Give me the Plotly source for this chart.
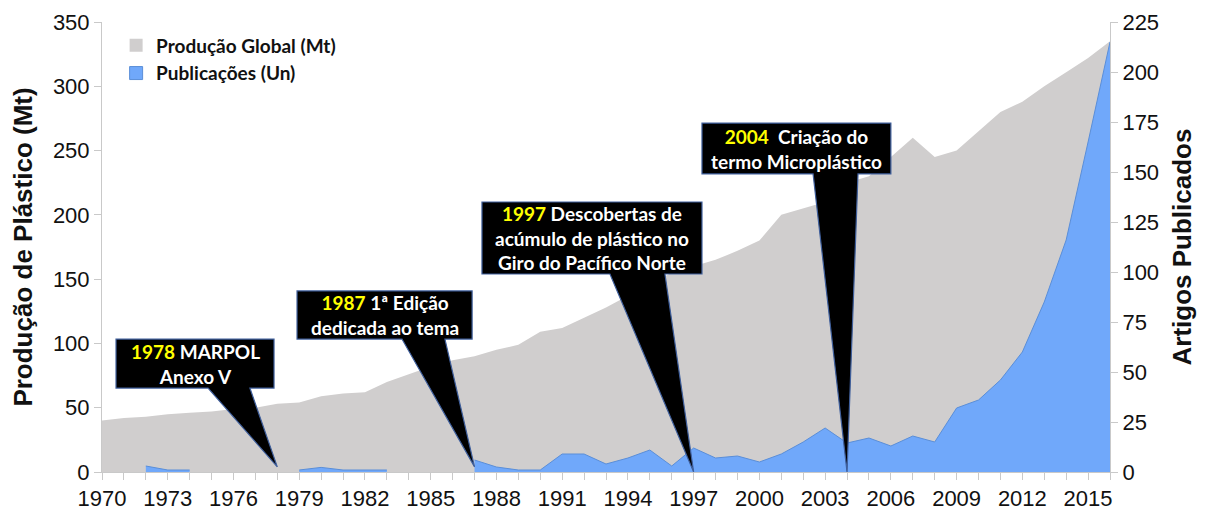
import plotly.graph_objects as go

# Produção global de plástico (Mt) e artigos publicados sobre microplásticos
anos = list(range(1970, 2017))

producao = [40, 42, 43, 45, 46, 47, 49, 50, 53, 54,
            59, 61, 62, 70, 76, 82, 87, 90, 95, 99,
            109, 112, 120, 128, 137, 146, 155, 160, 165, 172,
            180, 200, 205, 210, 225, 230, 245, 260, 245, 250,
            265, 280, 288, 300, 311, 322, 335]

# None = ano sem publicações (a área é interrompida)
publicacoes = [None, None, 3, 1, 1, None, None, None, None, 1,
               2.3, 1, 1, 1, None, None, None, 6, 2.5, 1,
               1, 9, 9, 4, 7, 11, 3, 12, 7, 8,
               5, 9, 15, 22, 14.5, 17, 13, 18, 15, 32,
               36, 46, 60, 85, 116, 165, 215]

marcos_ano = [1978, 1987, 1997, 2004]
marcos_texto = [
    "MARPOL<br>Anexo V",
    "1ª Edição<br>dedicada ao tema",
    "Descobertas de<br>acúmulo de plástico no<br>Giro do Pacífico Norte",
    " Criação do<br>termo Microplástico",
]

cinza = '#d0cece'
azul = '#70a8fa'
eixo = '#c9c9c9'
fonte_eixo = 'Liberation Sans, Arial, sans-serif'
fonte_texto = 'Lato, Calibri, sans-serif'

fig = go.Figure()

fig.add_trace(go.Scatter(x=anos, y=producao, mode='lines', fill='tozeroy',
                         fillcolor=cinza, line=dict(width=0, color=cinza),
                         showlegend=False, hoverinfo='x+y'))

# o preenchimento do plotly liga os buracos, então cada trecho vira um trace
trechos = []
atual = []
for a, v in zip(anos, publicacoes):
    if v is None:
        if atual:
            trechos.append(atual)
        atual = []
    else:
        atual.append((a, v))
if atual:
    trechos.append(atual)

for t in trechos:
    fig.add_trace(go.Scatter(x=[p[0] for p in t], y=[p[1] for p in t], mode='lines',
                             fill='tozeroy', fillcolor=azul,
                             line=dict(width=1, color='#5a8ed8'),
                             yaxis='y2', showlegend=False, hoverinfo='x+y'))

# legenda com quadrados
fig.add_trace(go.Scatter(x=[None], y=[None], mode='markers', name='Produção Global (Mt)',
                         marker=dict(symbol='square', size=13, color=cinza)))
fig.add_trace(go.Scatter(x=[None], y=[None], mode='markers', name='Publicações (Un)',
                         marker=dict(symbol='square', size=13, color=azul,
                                     line=dict(color='#5a8ed8', width=1))))

# caixas de texto (balões) com ponteiro até o ano do marco
caixas = [
    # x0, x1, y0, y1, base0, base1, ponta
    (1970.64, 1977.85, 65.3, 103.4, 1974.84, 1976.75, 4),
    (1978.9, 1986.89, 103.4, 140.8, 1983.69, 1985.65, 4),
    (1987.34, 1997.38, 154, 210, 1993.18, 1995.69, 0),
    (1997.38, 2006.0, 231.8, 271.4, 2002.45, 2004.5, 0),
]

for ano, texto, c in zip(marcos_ano, marcos_texto, caixas):
    x0, x1, y0, y1, b0, b1, ponta = c
    caminho = (f"M {x0},{y1} L {x1},{y1} L {x1},{y0} L {b1},{y0} "
               f"L {ano},{ponta} L {b0},{y0} L {x0},{y0} Z")
    fig.add_shape(type='path', path=caminho, xref='x', yref='y',
                  fillcolor='black', line=dict(color='#3f5f9c', width=1.2),
                  layer='above')
    fig.add_annotation(x=(x0 + x1) / 2, y=(y0 + y1) / 2, xref='x', yref='y',
                       text=f"<span style='color:#ffff00'>{ano}</span> {texto}",
                       showarrow=False, align='center',
                       font=dict(family=fonte_texto, size=19, color='white', weight='bold'))

# a página tem 8px de margem no body, então a figura fica um pouco menor
fig.update_layout(
    width=1198, height=503,
    margin=dict(l=94, r=96, t=14, b=39),
    plot_bgcolor='white', paper_bgcolor='white',
    legend=dict(x=0.014, y=0.99, xanchor='left', yanchor='top',
                bgcolor='rgba(0,0,0,0)', tracegroupgap=0,
                font=dict(family=fonte_texto, size=19, color='#111', weight='bold')),
    xaxis=dict(range=[1970, 2016], tick0=1970, dtick=3, ticks='outside', ticklen=7,
               tickcolor=eixo, showline=True, linecolor=eixo, linewidth=1,
               showgrid=False, zeroline=False, automargin=False,
               minor=dict(dtick=1, ticks='outside', ticklen=7, tickcolor=eixo),
               tickfont=dict(family=fonte_eixo, size=22, color='#111')),
    yaxis=dict(range=[0, 350], dtick=50, ticks='outside', ticklen=7, tickcolor=eixo,
               showline=True, linecolor=eixo, linewidth=1, showgrid=False, zeroline=False,
               automargin=False,
               tickfont=dict(family=fonte_eixo, size=22, color='#111'),
               title=dict(text='Produção de Plástico (Mt)', standoff=12,
                          font=dict(family=fonte_eixo, size=26, color='#111', weight='bold'))),
    yaxis2=dict(range=[0, 225], dtick=25, overlaying='y', side='right', ticks='outside',
                ticklen=7, tickcolor=eixo, showline=True, linecolor=eixo, linewidth=1,
                showgrid=False, zeroline=False, automargin=False,
                tickfont=dict(family=fonte_eixo, size=22, color='#111'),
                title=dict(text='Artigos Publicados', standoff=14,
                           font=dict(family=fonte_eixo, size=26, color='#111', weight='bold'))),
)

fig.write_html("out.html")
